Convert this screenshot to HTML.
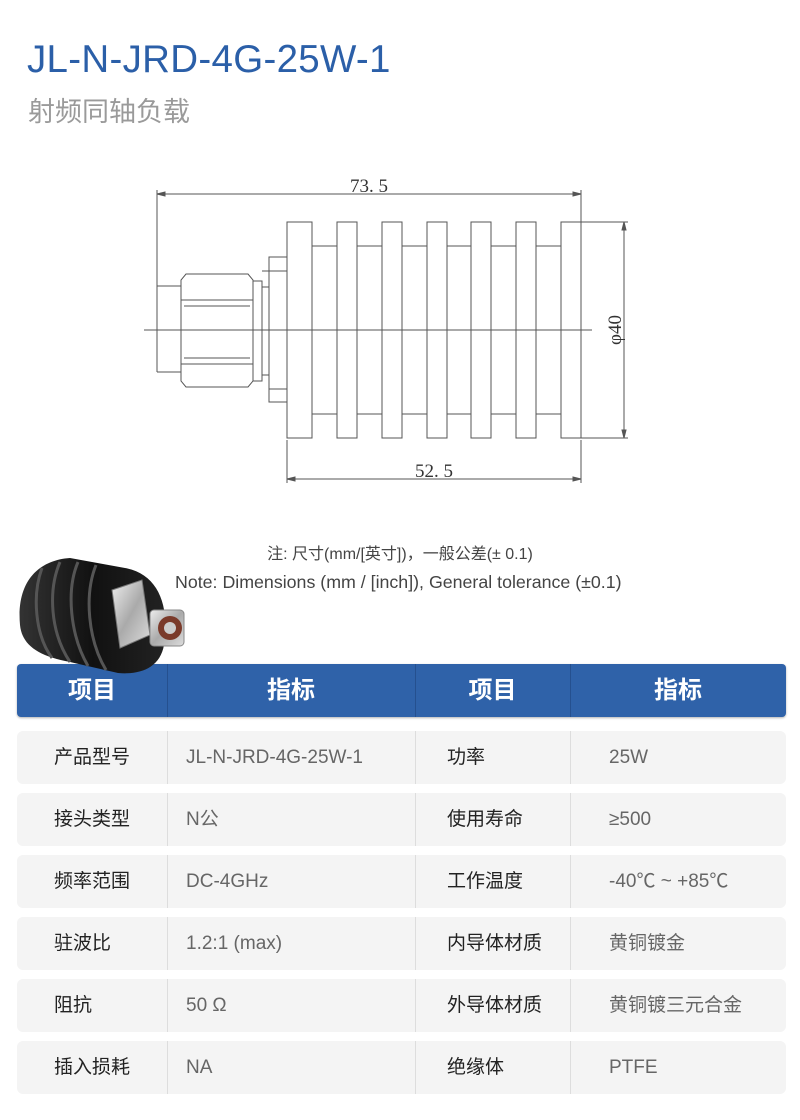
<!DOCTYPE html>
<html><head><meta charset="utf-8"><style>
*{margin:0;padding:0;box-sizing:border-box}
body{width:800px;height:1120px;background:#fff;position:relative;overflow:hidden;font-family:"Liberation Sans","Noto Sans CJK SC",sans-serif}
.t{position:absolute;left:27px;top:38px;font-size:38.5px;color:#2b5fa8;letter-spacing:0.3px}
.s{position:absolute;left:28px;top:90px;font-size:27px;color:#9a9a9a}
.n1{position:absolute;left:0;width:800px;text-align:center;top:540px;font-size:16px;color:#444}
.n2{position:absolute;left:175px;top:572px;font-size:17.8px;color:#444}
.hd{position:absolute;left:17px;top:664px;width:769px;height:53px;background:#2f62a9;border-radius:4px;box-shadow:0 1px 2px rgba(0,0,0,.3)}
.row{position:absolute;left:17px;width:769px;height:53px;background:#f4f4f4;border-radius:6px}
.c{position:absolute;top:0;height:53px;line-height:53px;font-size:19px;white-space:nowrap}
.dv{position:absolute;top:0;height:100%;width:1px;background:#ddd}
.hd .dv{background:#25508f}
.hd .c{color:#fff;font-weight:bold;font-size:24px;text-align:center}
.k{color:#222}.v{color:#666}
</style></head><body>
<div class="t">JL-N-JRD-4G-25W-1</div>
<div class="s">射频同轴负载</div>

<svg style="position:absolute;left:0;top:0" width="800" height="520">
<g stroke="#555" stroke-width="1" fill="none">
<line x1="157" y1="190" x2="157" y2="372"/>
<line x1="581" y1="190" x2="581" y2="222"/>
<line x1="157" y1="194" x2="581" y2="194"/>
<path d="M157 194 l8 -2 v4z M581 194 l-8 -2 v4z" fill="#555"/>
<g fill="#fff">
<rect x="287" y="222" width="25" height="216"/>
<rect x="337" y="222" width="20" height="216"/>
<rect x="382" y="222" width="20" height="216"/>
<rect x="427" y="222" width="20" height="216"/>
<rect x="471" y="222" width="20" height="216"/>
<rect x="516" y="222" width="20" height="216"/>
<rect x="561" y="222" width="20" height="216"/>
</g>
<path d="M312 246h25M357 246h25M402 246h25M447 246h24M491 246h25M536 246h25M312 414h25M357 414h25M402 414h25M447 414h24M491 414h25M536 414h25"/>
<rect x="269" y="257" width="18" height="145"/>
<path d="M269 271h18M269 389h18M262 271h7"/>
<rect x="262" y="287" width="7" height="88"/>
<rect x="253" y="281" width="9" height="100"/>
<path d="M157 286h24M157 372h24"/>
<path d="M186 274h62l5 6v101l-5 6h-62l-5-6v-101z"/>
<path d="M181 300h72M181 364h72M184 306h66M184 358h66"/>
<line x1="144" y1="330" x2="592" y2="330"/>
<line x1="581" y1="222" x2="628" y2="222"/>
<line x1="581" y1="438" x2="628" y2="438"/>
<line x1="624" y1="222" x2="624" y2="438"/>
<path d="M624 222 l-2 8 h4z M624 438 l-2 -8 h4z" fill="#555"/>
<line x1="287" y1="440" x2="287" y2="483"/>
<line x1="581" y1="440" x2="581" y2="483"/>
<line x1="287" y1="479" x2="581" y2="479"/>
<path d="M287 479 l8 -2 v4z M581 479 l-8 -2 v4z" fill="#555"/>
</g>
<text x="369" y="192" font-family="Liberation Serif,serif" font-size="19" fill="#333" text-anchor="middle">73. 5</text>
<text x="434" y="477" font-family="Liberation Serif,serif" font-size="19" fill="#333" text-anchor="middle">52. 5</text>
<text transform="translate(621,330) rotate(-90)" font-family="Liberation Serif,serif" font-size="19" fill="#333" text-anchor="middle">φ40</text>
</svg>

<div class="n1">注: 尺寸(mm/[英寸])，一般公差(± 0.1)</div>
<div class="n2">Note: Dimensions (mm / [inch]), General tolerance (±0.1)</div>

<div class="hd">
<div class="c" style="left:0;width:150px">项目</div><div class="dv" style="left:150px"></div>
<div class="c" style="left:150px;width:248px">指标</div><div class="dv" style="left:398px"></div>
<div class="c" style="left:398px;width:155px">项目</div><div class="dv" style="left:553px"></div>
<div class="c" style="left:553px;width:216px">指标</div>
</div>

<svg style="position:absolute;left:0;top:550px" width="200" height="130">
<defs>
<linearGradient id="g" x1="0" x2="1"><stop offset="0" stop-color="#333"/><stop offset=".5" stop-color="#111"/><stop offset="1" stop-color="#222"/></linearGradient>
<linearGradient id="m" x1="0" x2="1" y1="0" y2="1"><stop offset="0" stop-color="#eee"/><stop offset=".5" stop-color="#aaa"/><stop offset="1" stop-color="#ddd"/></linearGradient>
</defs>
<path d="M20 75 C16 30 40 10 70 8 L125 18 C158 24 170 55 164 95 C160 118 140 125 118 123 L70 112 C38 106 22 95 20 75z" fill="url(#g)"/>
<path d="M42 18 C32 45 35 85 52 108 M60 12 C48 40 50 82 70 112 M78 12 C66 40 70 85 88 116 M96 15 C84 45 88 90 106 120" stroke="#555" stroke-width="3" fill="none"/>
<path d="M112 40 L142 30 L150 85 L120 98z" fill="url(#m)" stroke="#777"/>
<rect x="150" y="60" width="34" height="36" rx="4" fill="url(#m)" stroke="#888"/>
<circle cx="170" cy="78" r="12" fill="#7a3a2a"/>
<circle cx="170" cy="78" r="6" fill="#ccc"/>
</svg>

<div class="row" style="top:731px"><div class="c k" style="left:37px">产品型号</div><div class="dv" style="left:150px"></div><div class="c v" style="left:169px">JL-N-JRD-4G-25W-1</div><div class="dv" style="left:398px"></div><div class="c k" style="left:430px">功率</div><div class="dv" style="left:553px"></div><div class="c v" style="left:592px">25W</div></div>
<div class="row" style="top:793px"><div class="c k" style="left:37px">接头类型</div><div class="dv" style="left:150px"></div><div class="c v" style="left:169px">N公</div><div class="dv" style="left:398px"></div><div class="c k" style="left:430px">使用寿命</div><div class="dv" style="left:553px"></div><div class="c v" style="left:592px">≥500</div></div>
<div class="row" style="top:855px"><div class="c k" style="left:37px">频率范围</div><div class="dv" style="left:150px"></div><div class="c v" style="left:169px">DC-4GHz</div><div class="dv" style="left:398px"></div><div class="c k" style="left:430px">工作温度</div><div class="dv" style="left:553px"></div><div class="c v" style="left:592px">-40℃ ~ +85℃</div></div>
<div class="row" style="top:917px"><div class="c k" style="left:37px">驻波比</div><div class="dv" style="left:150px"></div><div class="c v" style="left:169px">1.2:1 (max)</div><div class="dv" style="left:398px"></div><div class="c k" style="left:430px">内导体材质</div><div class="dv" style="left:553px"></div><div class="c v" style="left:592px">黄铜镀金</div></div>
<div class="row" style="top:979px"><div class="c k" style="left:37px">阻抗</div><div class="dv" style="left:150px"></div><div class="c v" style="left:169px">50 Ω</div><div class="dv" style="left:398px"></div><div class="c k" style="left:430px">外导体材质</div><div class="dv" style="left:553px"></div><div class="c v" style="left:592px">黄铜镀三元合金</div></div>
<div class="row" style="top:1041px"><div class="c k" style="left:37px">插入损耗</div><div class="dv" style="left:150px"></div><div class="c v" style="left:169px">NA</div><div class="dv" style="left:398px"></div><div class="c k" style="left:430px">绝缘体</div><div class="dv" style="left:553px"></div><div class="c v" style="left:592px">PTFE</div></div>
</body></html>
